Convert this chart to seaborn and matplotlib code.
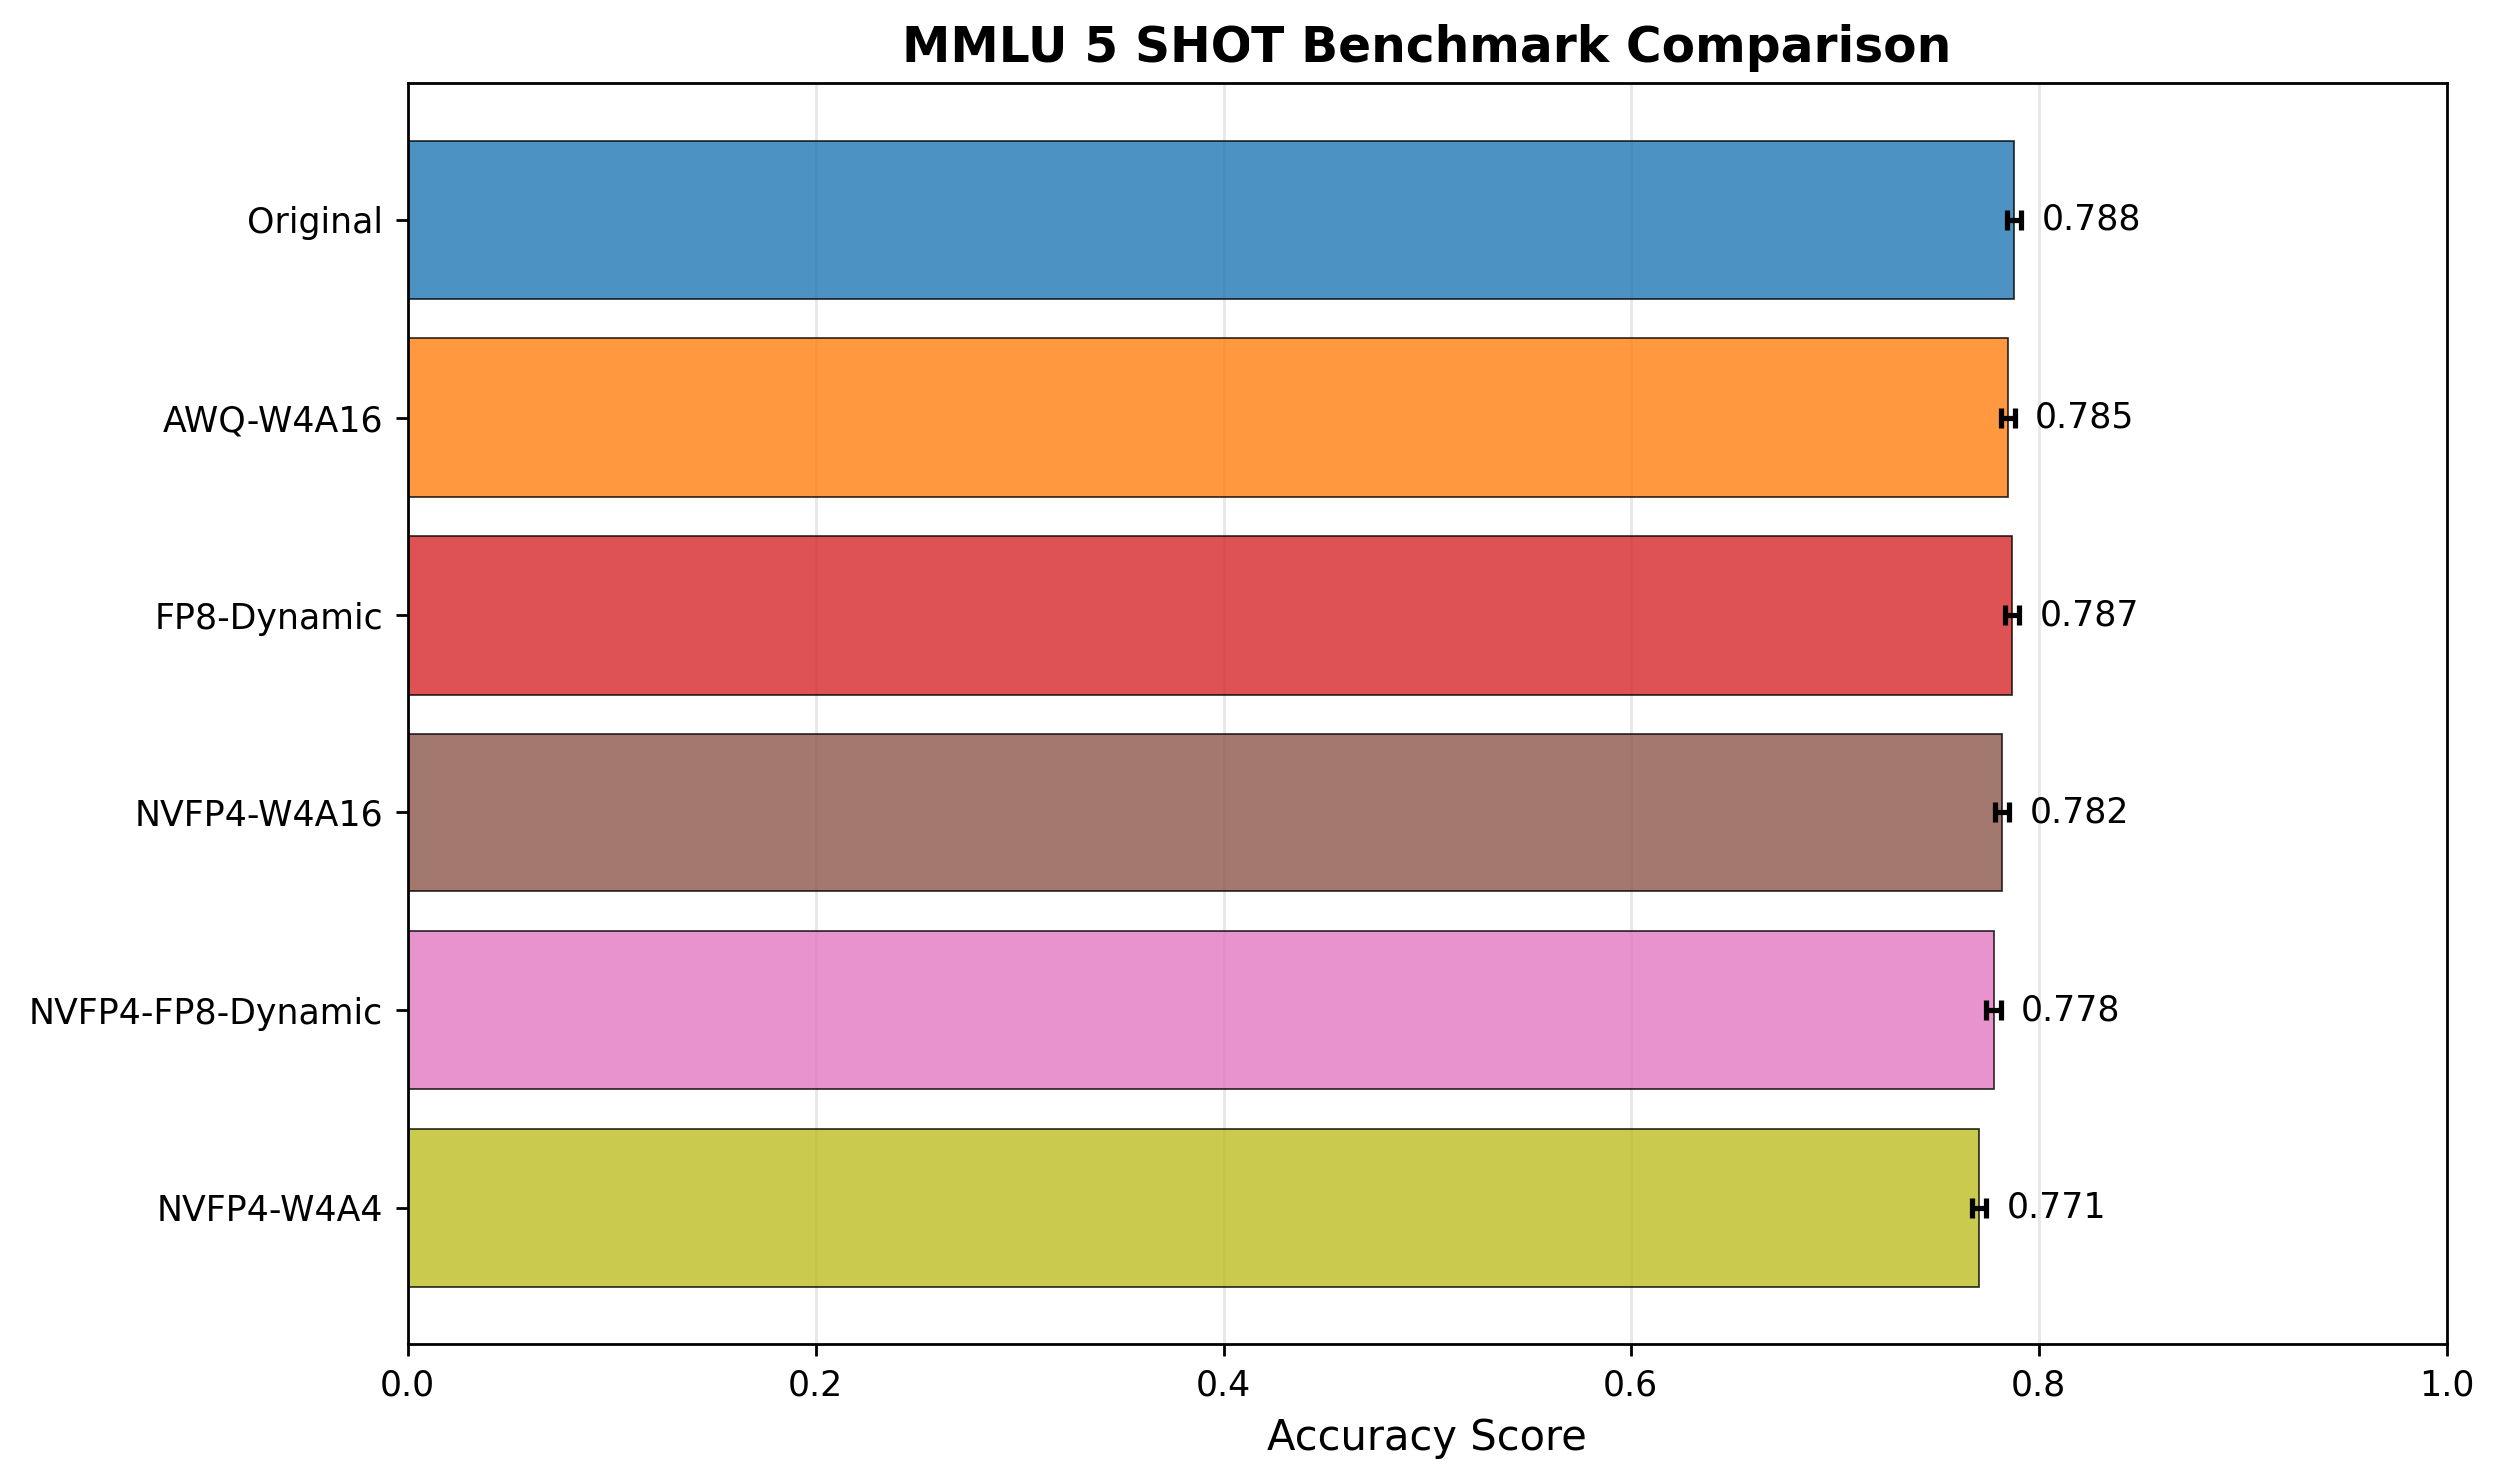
import matplotlib
matplotlib.use("Agg")
import matplotlib.pyplot as plt
import seaborn as sns
import pandas as pd

models = ["Original", "AWQ-W4A16", "FP8-Dynamic", "NVFP4-W4A16", "NVFP4-FP8-Dynamic", "NVFP4-W4A4"]
scores = [0.788, 0.785, 0.787, 0.782, 0.778, 0.771]
errors = [0.0034, 0.0034, 0.0034, 0.0035, 0.0035, 0.0035]
colors = ["tab:blue", "tab:orange", "tab:red", "tab:brown", "tab:pink", "tab:olive"]

df = pd.DataFrame({"model": models, "score": scores})

fig, ax = plt.subplots(figsize=(10, 5.94), dpi=250)
fig.subplots_adjust(left=0.163, right=0.979, top=0.944, bottom=0.094)

sns.barplot(data=df, x="score", y="model", hue="model", palette=colors, legend=False,
            orient="h", alpha=0.8, edgecolor="black", linewidth=0.5, ax=ax, width=0.8,
            saturation=1)

ax.errorbar(scores, list(range(len(models))), xerr=errors, fmt="none", ecolor="black",
            elinewidth=1.5, capsize=3, capthick=1.5)

for i, (s, e) in enumerate(zip(scores, errors)):
    ax.text(s + e + 0.01, i, f"{s:.3f}", va="center", ha="left", fontsize=10)

ax.set_xlim(0, 1.0)
ax.set_xlabel("Accuracy Score", fontsize=12)
ax.set_ylabel("")
ax.set_title("MMLU 5 SHOT Benchmark Comparison", fontsize=14, fontweight="bold")
ax.tick_params(axis="both", labelsize=10)
ax.grid(axis="x", alpha=0.3)
ax.set_axisbelow(True)

fig.savefig("out.png", dpi=250)
